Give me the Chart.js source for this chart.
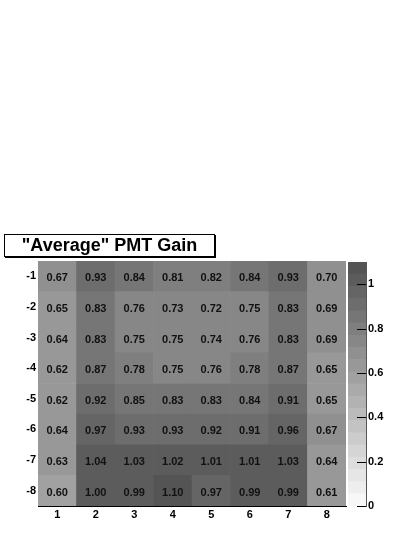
<!DOCTYPE html>
<html>
<head>
<meta charset="utf-8">
<script src="https://cdn.jsdelivr.net/npm/chart.js@4/dist/chart.umd.min.js"></script>
<style>
  html, body { margin:0; padding:0; background:#fff; }
  #wrap { position:relative; width:415px; height:537px; }
  canvas { position:absolute; left:0; top:0; }
  #title {
    position:absolute; left:4px; top:234px; width:209px; height:21px;
    border:1px solid #000; box-shadow:1px 1px 0 #000; background:#fff;
    font:bold 18px "Liberation Sans", Arial, sans-serif; color:#000;
    text-align:center; line-height:21px; white-space:nowrap;
  }
</style>
</head>
<body>
<div id="wrap">
  <canvas id="main" width="415" height="537"></canvas>
  <canvas id="pal" width="415" height="537"></canvas>
  <div id="title">"Average" PMT Gain</div>
</div>
<script>
// ---- data ----
const columns = ['1','2','3','4','5','6','7','8'];
const rowLabels = ['-1','-2','-3','-4','-5','-6','-7','-8'];   // top to bottom
const row1 = [0.67, 0.93, 0.84, 0.81, 0.82, 0.84, 0.93, 0.70];
const row2 = [0.65, 0.83, 0.76, 0.73, 0.72, 0.75, 0.83, 0.69];
const row3 = [0.64, 0.83, 0.75, 0.75, 0.74, 0.76, 0.83, 0.69];
const row4 = [0.62, 0.87, 0.78, 0.75, 0.76, 0.78, 0.87, 0.65];
const row5 = [0.62, 0.92, 0.85, 0.83, 0.83, 0.84, 0.91, 0.65];
const row6 = [0.64, 0.97, 0.93, 0.93, 0.92, 0.91, 0.96, 0.67];
const row7 = [0.63, 1.04, 1.03, 1.02, 1.01, 1.01, 1.03, 0.64];
const row8 = [0.60, 1.00, 0.99, 1.10, 0.97, 0.99, 0.99, 0.61];
const gainRows = [row1, row2, row3, row4, row5, row6, row7, row8]; // top to bottom
const zMin = 0, zMax = 1.1, nBands = 20;
const zTicks = [0, 0.2, 0.4, 0.6, 0.8, 1.0];

const FONT = '"Liberation Sans", Arial, Helvetica, sans-serif';

function bandOf(v) {
  let b = Math.floor((v - zMin) / (zMax - zMin) * nBands);
  return Math.max(0, Math.min(nBands - 1, b));
}
function bandColor(b) {
  const g = Math.round(247 - b * 8.6);
  return `rgb(${g},${g},${g})`;
}

// datasets from bottom row (-8) to top row (-1), each cell one unit tall
const datasets = gainRows.slice().reverse().map((vals, i) => ({
  label: rowLabels[rowLabels.length - 1 - i],
  data: vals.map(() => 1),
  values: vals,
  backgroundColor: vals.map(v => bandColor(bandOf(v))),
  borderWidth: 0,
  barPercentage: 1,
  categoryPercentage: 1,
}));

const cellText = {
  id: 'cellText',
  afterDatasetsDraw(chart) {
    const ctx = chart.ctx;
    ctx.save();
    ctx.font = 'bold 11px ' + FONT;
    ctx.fillStyle = '#111';
    ctx.textAlign = 'center';
    ctx.textBaseline = 'middle';
    chart.data.datasets.forEach((ds, di) => {
      const meta = chart.getDatasetMeta(di);
      meta.data.forEach((el, j) => {
        const cy = (el.y + el.base) / 2;
        ctx.fillText(ds.values[j].toFixed(2), el.x, cy + 2);
      });
    });
    ctx.restore();
  }
};

new Chart(document.getElementById('main'), {
  type: 'bar',
  data: { labels: columns, datasets },
  options: {
    responsive: false,
    animation: false,
    layout: { padding: { left: 0, top: 261, right: 69, bottom: 11 } },
    plugins: { legend: { display: false }, tooltip: { enabled: false } },
    scales: {
      x: {
        stacked: true,
        grid: { display: true, drawOnChartArea: false, drawTicks: false, color: 'rgba(0,0,0,0)' },
        border: { display: true, color: '#000', width: 1 },
        ticks: { font: { family: FONT, weight: 'bold', size: 11 }, color: '#000', padding: 2, maxRotation: 0 },
        afterFit: s => { s.height = 20; }
      },
      y: {
        stacked: true, min: 0, max: rowLabels.length,
        grid: { display: true, drawOnChartArea: false, drawTicks: false, color: 'rgba(0,0,0,0)' },
        border: { display: true, color: '#000', width: 1 },
        afterBuildTicks: s => { s.ticks = rowLabels.map((l, i) => ({ value: i + 0.5 })); },
        ticks: {
          font: { family: FONT, weight: 'bold', size: 11 }, color: '#000', padding: 2,
          callback: v => rowLabels[rowLabels.length - 1 - Math.floor(v)]
        },
        afterFit: s => { s.width = 38; }
      }
    }
  },
  plugins: [cellText]
});

// ---- colour palette (z axis) ----
const bandStep = (zMax - zMin) / nBands;
const palSets = Array.from({ length: nBands }, (_, b) => ({
  data: [bandStep],
  backgroundColor: bandColor(b),
  borderWidth: 0,
  barPercentage: 1,
  categoryPercentage: 1,
}));

const inTicks = {
  id: 'inTicks',
  afterDraw(chart) {
    const s = chart.scales.y, ctx = chart.ctx, a = chart.chartArea;
    ctx.save();
    ctx.strokeStyle = '#000';
    ctx.lineWidth = 1;
    zTicks.forEach(v => {
      const y = Math.round(s.getPixelForValue(v)) + 0.5;
      ctx.beginPath();
      ctx.moveTo(a.right - 9, y);
      ctx.lineTo(a.right, y);
      ctx.stroke();
    });
    ctx.restore();
  }
};

new Chart(document.getElementById('pal'), {
  type: 'bar',
  data: { labels: [''], datasets: palSets },
  options: {
    responsive: false,
    animation: false,
    layout: { padding: { left: 348, top: 262, right: 0, bottom: 31 } },
    plugins: { legend: { display: false }, tooltip: { enabled: false } },
    scales: {
      x: { stacked: true, display: false },
      y: {
        stacked: true, position: 'right', min: zMin, max: zMax,
        grid: { display: true, drawOnChartArea: false, drawTicks: false, color: 'rgba(0,0,0,0)' },
        border: { display: true, color: '#555', width: 1 },
        afterBuildTicks: s => { s.ticks = zTicks.map(v => ({ value: v })); },
        ticks: {
          font: { family: FONT, weight: 'bold', size: 11 }, color: '#000', padding: 2,
          callback: v => String(v)
        },
        afterFit: s => { s.width = 49; }
      }
    }
  },
  plugins: [inTicks]
});
</script>
</body>
</html>
